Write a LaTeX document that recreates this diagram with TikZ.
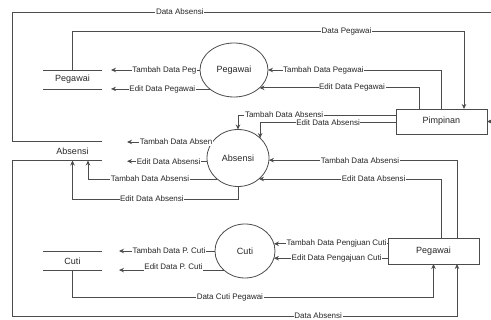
\documentclass[tikz,border=0pt]{standalone}
\usepackage{fontspec}
\setmainfont{Liberation Sans}
\usetikzlibrary{arrows.meta,shapes.geometric,calc}

\begin{document}
\begin{tikzpicture}[x=1pt,y=-1pt,
    font=\fontsize{8}{9.6}\selectfont, text=black!85,
    line/.style={draw=black!70, line width=0.8pt},
    flow/.style={line, -{Stealth[length=5pt,width=4.5pt]}},
    lbl/.style={fill=white, inner sep=0.6pt},
    proc/.style={ellipse, draw=black!70, line width=0.8pt, fill=white,
        inner sep=0pt, outer sep=0pt, font=\fontsize{9}{10.8}\selectfont},
    ent/.style={rectangle, draw=black!70, line width=0.8pt, fill=white,
        minimum width=91pt, outer sep=0pt, font=\fontsize{9}{10.8}\selectfont},
    store/.style={minimum width=59pt, minimum height=19pt, inner sep=0pt,
        outer sep=0pt, font=\fontsize{9}{10.8}\selectfont}]
    \useasboundingbox (0,0) rectangle (491,320);

    % data stores
    \node[store] (sPeg) at (72.5,79.5) {Pegawai};
    \node[store] (sAbs) at (72.5,151) {Absensi};
    \node[store] (sCuti) at (72.5,261) {Cuti};
    \foreach \s in {sPeg,sAbs,sCuti}
        \draw[line] (\s.north west) -- (\s.north east) (\s.south west) -- (\s.south east);

    % processes
    \node[proc, minimum width=68pt, minimum height=54pt] (pPeg) at (234,70) {Pegawai};
    \node[proc, minimum width=62pt, minimum height=57pt] (pAbs) at (238,158) {Absensi};
    \node[proc, minimum width=60pt, minimum height=54pt] (pCuti) at (245,251) {Cuti};

    % entities
    \node[ent, minimum height=25pt] (pim) at (441.5,121.5) {Pimpinan};
    \node[ent, minimum height=26pt] (peg) at (433.5,251) {Pegawai};

    % free ends
    \coordinate (ePeg) at (111,0);
    \coordinate (eAbs) at (127,0);
    \coordinate (eCuti) at (119,0);
    \coordinate (cTL) at (12,12);
    \coordinate (cTR) at (497,12);
    \coordinate (cBL) at (12,316);

    % Data Absensi
    \draw[flow] (sAbs.north west) -| (cTL) -- node[lbl, pos=0.346] {Data Absensi} (cTR) |- (pim.east);
    \draw[flow] (sAbs.south west) -| (cBL) -| node[lbl, pos=0.344] {Data Absensi} ($(peg.south)+(23.5,0)$);

    % Pegawai
    \draw[flow] (sPeg.north) -- ++(0,-39) -| node[lbl, pos=0.35] {Data Pegawai} ($(pim.north)+(22.5,0)$);
    \draw[flow] ($(pim.north)+(-0.5,0)$) |- node[lbl, pos=0.84] {Tambah Data Pegawai} (pPeg.east);
    \draw[flow] ($(pim.north)+(-22.5,0)$) |- node[lbl, pos=0.71] {Edit Data Pegawai} (pPeg.-35);
    \draw[flow] (pPeg.west) -- node[lbl, pos=0.4] {Tambah Data Peg} (pPeg.west -| ePeg);
    \draw[flow] (pPeg.218) -- node[lbl, pos=0.48] {Edit Data Pegawai} (pPeg.218 -| ePeg);

    % Absensi
    \draw[flow] ($(pim.west)+(0,-6.5)$) -| node[lbl, pos=0.354] {Tambah Data Absensi} (pAbs.north);
    \draw[flow] ($(pim.west)+(0,1)$) -| node[lbl, pos=0.25] {Edit Data Absensi} (pAbs.42);
    \draw[flow] ($(peg.north)+(23.5,0)$) |- node[lbl, pos=0.758] {Tambah Data Absensi} (pAbs.-4);
    \draw[flow] ($(peg.north)+(7.5,0)$) |- node[lbl, pos=0.685] {Edit Data Absensi} (pAbs.-45);
    \draw[flow] (pAbs.148) -- node[lbl, pos=0.425] {Tambah Data Absen} (pAbs.148 -| eAbs);
    \draw[flow] (pAbs.186) -- node[lbl, pos=0.48] {Edit Data Absensi} (pAbs.186 -| eAbs);
    \draw[flow] (pAbs.225) -| node[lbl, pos=0.26] {Tambah Data Absensi} ($(sAbs.south)+(15.5,0)$);
    \draw[flow] (pAbs.south) -- ++(0,12.5) -| node[lbl, pos=0.26] {Edit Data Absensi} (sAbs.south);

    % Cuti
    \draw[flow] (pCuti.14 -| peg.west) -- node[lbl, pos=0.45] {Tambah Data Pengjuan Cuti} (pCuti.14);
    \draw[flow] (pCuti.-14 -| peg.west) -- node[lbl, pos=0.45] {Edit Data Pengajuan Cuti} (pCuti.-14);
    \draw[flow] (pCuti.west) -- node[lbl, pos=0.48] {Tambah Data P. Cuti} (pCuti.west -| eCuti);
    \draw[flow] (pCuti.222) -- node[lbl, pos=0.48, yshift=3pt] {Edit Data P. Cuti} (pCuti.222 -| eCuti);
    \draw[flow] (sCuti.south) -- ++(0,26.5) -| node[lbl, pos=0.218] {Data Cuti Pegawai} (peg.south);
\end{tikzpicture}
\end{document}
